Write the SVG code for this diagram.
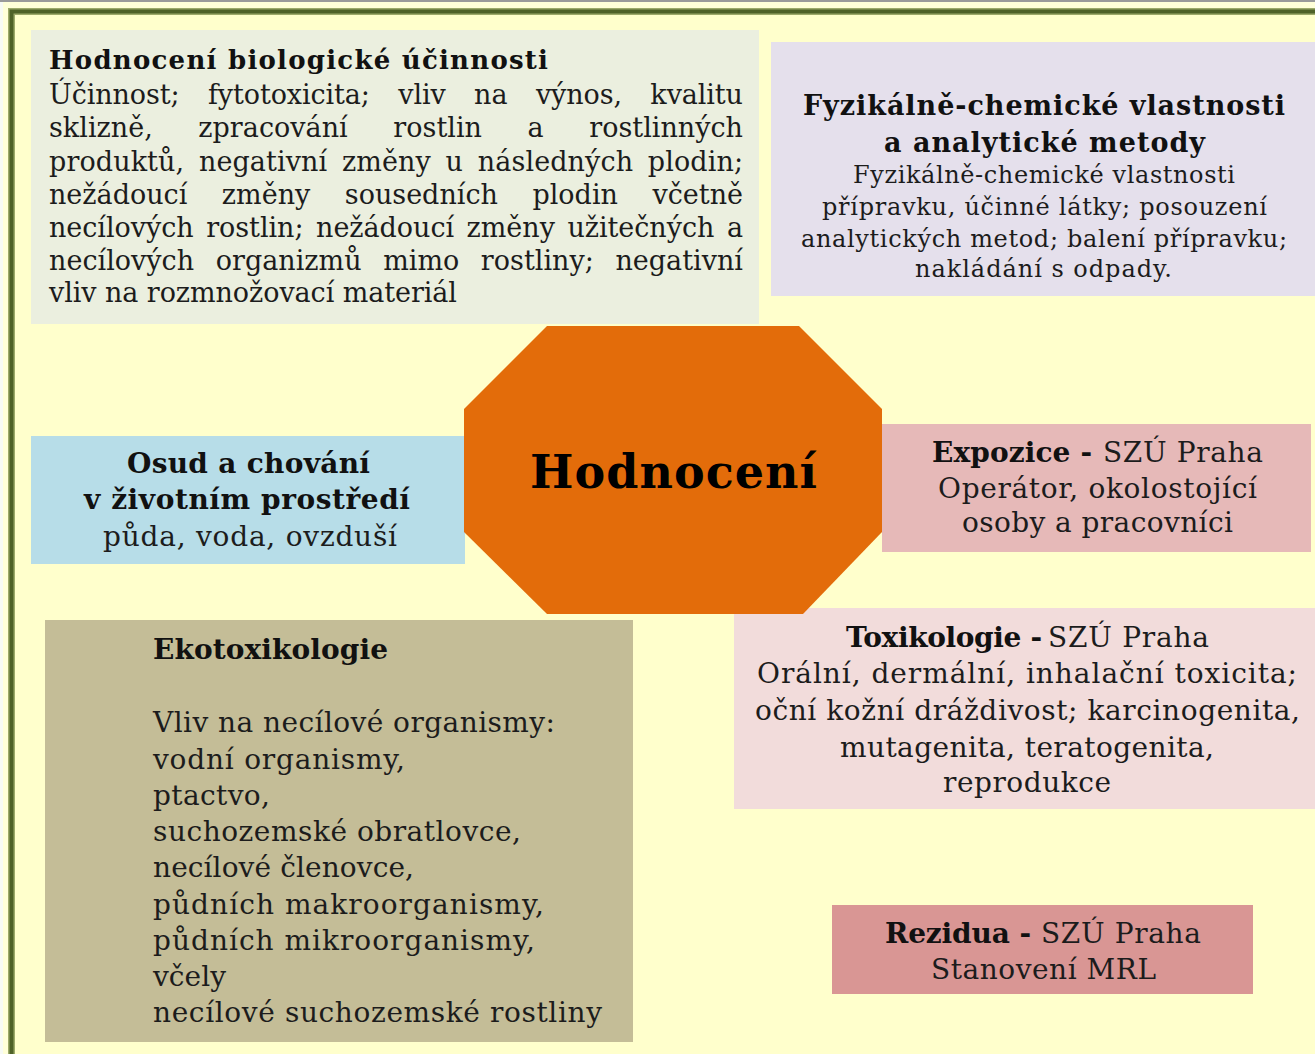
<svg xmlns="http://www.w3.org/2000/svg" width="1315" height="1054" viewBox="0 0 1315 1054">
<style>
text{font-family:"DejaVu Serif","Liberation Serif",serif;fill:#1c1c1c}
.b{font-weight:bold;fill:#111}
.s26{font-size:26px}
.s27{font-size:27px}
.s24{font-size:24px}
.s28{font-size:28px}
.big{font-size:46px;font-weight:bold;fill:#000}
</style>
<rect x="0" y="0" width="1315" height="1054" fill="#F7FAF4"/>
<rect x="3" y="2" width="1312" height="1052" fill="#FFFFD8"/>
<rect x="0" y="0" width="1315" height="2" fill="#9A9A9A"/>
<rect x="11.5" y="11.5" width="1330" height="1070" fill="#FFFFCC" stroke="#9DAA6A" stroke-width="7"/>
<rect x="11.5" y="11.5" width="1330" height="1070" fill="none" stroke="#4F6228" stroke-width="4"/>

<g id="connectors"></g>

<g id="biologicka">
<rect x="31" y="30" width="728" height="294" fill="#EBEFDF"/>
<text class="b s26" x="49" y="69" textLength="499" lengthAdjust="spacing">Hodnocení biologické účinnosti</text>
<text class="s27" x="49" y="104" textLength="694" lengthAdjust="spacing" word-spacing="20">Účinnost; fytotoxicita; vliv na výnos, kvalitu</text>
<text class="s27" x="49" y="137" textLength="694" lengthAdjust="spacing" word-spacing="37">sklizně, zpracování rostlin a rostlinných</text>
<text class="s27" x="49" y="171" textLength="694" lengthAdjust="spacing" word-spacing="6">produktů, negativní změny u následných plodin;</text>
<text class="s27" x="49" y="204" textLength="694" lengthAdjust="spacing" word-spacing="26">nežádoucí změny sousedních plodin včetně</text>
<text class="s27" x="49" y="237" textLength="694" lengthAdjust="spacing" word-spacing="4">necílových rostlin; nežádoucí změny užitečných a</text>
<text class="s27" x="49" y="270" textLength="694" lengthAdjust="spacing" word-spacing="13">necílových organizmů mimo rostliny; negativní</text>
<text class="s27" x="49" y="302" textLength="408" lengthAdjust="spacing">vliv na rozmnožovací materiál</text>
</g>

<g id="fyzikalne">
<rect x="771" y="42" width="544" height="254" fill="#E5E0EC"/>
<text class="b s27" x="803" y="115" textLength="482" lengthAdjust="spacing">Fyzikálně-chemické vlastnosti</text>
<text class="b s27" x="884" y="152" textLength="321" lengthAdjust="spacing">a analytické metody</text>
<text class="s24" x="853" y="183" textLength="382" lengthAdjust="spacing">Fyzikálně-chemické vlastnosti</text>
<text class="s24" x="822" y="215" textLength="445" lengthAdjust="spacing">přípravku, účinné látky; posouzení</text>
<text class="s24" x="801" y="247" textLength="486" lengthAdjust="spacing">analytických metod; balení přípravku;</text>
<text class="s24" x="915" y="277" textLength="257" lengthAdjust="spacing">nakládání s odpady.</text>
</g>

<g id="osud">
<rect x="31" y="436" width="434" height="128" fill="#B7DDE8"/>
<text class="b s28" x="127" y="473" textLength="243" lengthAdjust="spacing">Osud a chování</text>
<text class="b s28" x="84" y="509" textLength="326" lengthAdjust="spacing">v životním prostředí</text>
<text class="s28" x="103" y="546" textLength="294" lengthAdjust="spacing">půda, voda, ovzduší</text>
</g>

<g id="expozice">
<rect x="882" y="424" width="429" height="128" fill="#E6B9B8"/>
<text class="b s28" x="932" y="462" textLength="160" lengthAdjust="spacing">Expozice -</text>
<text class="s28" x="1103" y="462" textLength="160" lengthAdjust="spacing">SZÚ Praha</text>
<text class="s28" x="938" y="498" textLength="319" lengthAdjust="spacing">Operátor, okolostojící</text>
<text class="s28" x="962" y="532" textLength="271" lengthAdjust="spacing">osoby a pracovníci</text>
</g>

<g id="toxikologie">
<rect x="734" y="608" width="581" height="201" fill="#F2DCDB"/>
<text class="b s28" x="846" y="647" textLength="196" lengthAdjust="spacing">Toxikologie -</text>
<text class="s28" x="1048" y="647" textLength="161" lengthAdjust="spacing">SZÚ Praha</text>
<text class="s28" x="757" y="683" textLength="540" lengthAdjust="spacing">Orální, dermální, inhalační toxicita;</text>
<text class="s28" x="755" y="720" textLength="545" lengthAdjust="spacing">oční kožní dráždivost; karcinogenita,</text>
<text class="s28" x="840" y="757" textLength="374" lengthAdjust="spacing">mutagenita, teratogenita,</text>
<text class="s28" x="943" y="792" textLength="168" lengthAdjust="spacing">reprodukce</text>
</g>

<g id="hodnoceni">
<polygon points="547,326 799,326 882,409 882,532 803,614 547,614 464,532 464,409" fill="#E36C0A"/>
<text class="big" x="530" y="488" textLength="287" lengthAdjust="spacing">Hodnocení</text>
</g>

<g id="rezidua">
<rect x="832" y="905" width="421" height="89" fill="#D99694"/>
<text class="b s28" x="885" y="943" textLength="146" lengthAdjust="spacing">Rezidua -</text>
<text class="s28" x="1041" y="943" textLength="160" lengthAdjust="spacing">SZÚ Praha</text>
<text class="s28" x="931" y="979" textLength="225" lengthAdjust="spacing">Stanovení MRL</text>
</g>

<g id="ekotoxikologie">
<rect x="45" y="620" width="588" height="422" fill="#C4BD97"/>
<text class="b s28" x="153" y="659" textLength="235" lengthAdjust="spacing">Ekotoxikologie</text>
<text class="s28" x="153" y="732" textLength="402" lengthAdjust="spacing">Vliv na necílové organismy:</text>
<text class="s28" x="153" y="769" textLength="252" lengthAdjust="spacing">vodní organismy,</text>
<text class="s28" x="153" y="805" textLength="117" lengthAdjust="spacing">ptactvo,</text>
<text class="s28" x="153" y="841" textLength="368" lengthAdjust="spacing">suchozemské obratlovce,</text>
<text class="s28" x="153" y="877" textLength="261" lengthAdjust="spacing">necílové členovce,</text>
<text class="s28" x="153" y="914" textLength="391" lengthAdjust="spacing">půdních makroorganismy,</text>
<text class="s28" x="153" y="950" textLength="382" lengthAdjust="spacing">půdních mikroorganismy,</text>
<text class="s28" x="153" y="986" textLength="73" lengthAdjust="spacing">včely</text>
<text class="s28" x="153" y="1022" textLength="449" lengthAdjust="spacing">necílové suchozemské rostliny</text>
</g>
</svg>
